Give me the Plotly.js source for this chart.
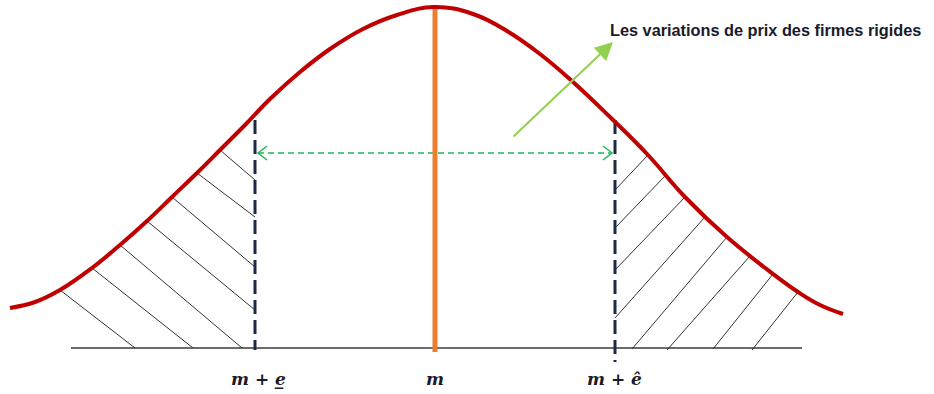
<!DOCTYPE html>
<html>
<head>
<meta charset="utf-8">
<script src="https://cdn.plot.ly/plotly-3.0.1.min.js"></script>
<style>html,body{margin:0;padding:0;background:#fff;}#chart{width:934px;height:394px;}</style>
</head>
<body>
<div id="chart"></div>
<script>
// Bell curve points (diagram coordinates)
const curveX = [10, 35, 60, 92, 120, 147, 172, 197, 220, 245, 270, 300, 330, 363, 397, 434, 473, 507, 540, 573, 610, 648, 685, 727, 773, 798, 820, 843];
const curveY = [308, 302, 290, 268, 245, 221, 197, 173, 150, 125, 99, 72, 49, 29, 15, 7, 14, 31, 54, 82, 117, 155, 197, 237, 274, 292, 305, 314];

// Hatch segments: start on curve, end on dashed line / baseline
const hatchX0 = [220, 197, 172, 147, 120, 92, 60, 648, 665, 685, 705, 727, 750, 773, 798];
const hatchY0 = [150, 173, 197, 221, 245, 268, 290, 155, 176, 197, 217, 237, 256, 274, 292];
const hatchX1 = [255, 255, 255, 255, 242, 193, 135, 615, 615, 615, 615, 632, 667, 713, 752];
const hatchY1 = [180, 217, 267, 310, 348, 348, 348, 190, 228, 270, 318, 349, 350, 349, 350];

// Baseline
const baseX = [71, 802];
const baseY = [348, 348];

// Mean and bounds
const meanX = 435;
const meanTop = 8;
const meanBottom = 352;
const lowX = 255;
const lowTop = 120;
const lowBottom = 350;
const highX = 615;
const highTop = 120;
const highBottom = 362;

// Double arrow between bounds
const spanY = 153;
const spanX0 = 258;
const spanX1 = 612;

// Pointer arrow
const pointerFrom = [512, 138];
const pointerTo = [613, 42];

// Texts
const annotationText = "Les variations de prix des firmes rigides";
const tickLabels = ["m + e\u0332", "m", "m + \u00ea"];
const tickX = [258, 435, 614];
const tickY = 379;

const hx = [], hy = [];
for (let i = 0; i < hatchX0.length; i++) {
  hx.push(hatchX0[i], hatchX1[i], null);
  hy.push(hatchY0[i], hatchY1[i], null);
}

const traces = [
  {x: baseX, y: baseY, mode: 'lines', line: {color: '#3a3a3a', width: 1.5}, hoverinfo: 'skip'},
  {x: hx, y: hy, mode: 'lines', line: {color: '#333333', width: 1}, hoverinfo: 'skip'},
  {x: [lowX, lowX], y: [lowTop, lowBottom], mode: 'lines', line: {color: '#1c2b45', width: 3, dash: '14px,6px'}, hoverinfo: 'skip'},
  {x: [highX, highX], y: [highTop, highBottom], mode: 'lines', line: {color: '#1c2b45', width: 3, dash: '14px,6px'}, hoverinfo: 'skip'},
  {x: [spanX0, spanX1], y: [spanY, spanY], mode: 'lines', line: {color: '#1fb45a', width: 1.5, dash: '6px,4px'}, hoverinfo: 'skip'},
  {x: [spanX0 + 9, spanX0, spanX0 + 9, null, spanX1 - 9, spanX1, spanX1 - 9],
   y: [spanY - 7, spanY, spanY + 7, null, spanY - 7, spanY, spanY + 7],
   mode: 'lines', line: {color: '#1fb45a', width: 1.5}, hoverinfo: 'skip'},
  {x: [meanX, meanX], y: [meanTop, meanBottom], mode: 'lines', line: {color: '#ed7d31', width: 5}, hoverinfo: 'skip'},
  {x: curveX, y: curveY, mode: 'lines', line: {color: '#c00000', width: 4, shape: 'spline', smoothing: 1.2}, hoverinfo: 'skip'}
];

const annotations = [
  {x: pointerTo[0], y: pointerTo[1], ax: pointerFrom[0], ay: pointerFrom[1], xref: 'x', yref: 'y', axref: 'x', ayref: 'y',
   showarrow: true, arrowhead: 2, arrowsize: 1.8, arrowwidth: 2, arrowcolor: '#92d050', text: ''},
  {x: 608, y: 30, xref: 'x', yref: 'y', xanchor: 'left', yanchor: 'middle', showarrow: false,
   text: '<b>' + annotationText + '</b>', font: {family: 'Liberation Sans Narrow, Arial Narrow, sans-serif', size: 16.3, color: '#1a1a2a'}}
];
for (let i = 0; i < tickLabels.length; i++) {
  annotations.push({x: tickX[i], y: tickY, xref: 'x', yref: 'y', xanchor: 'center', yanchor: 'middle', showarrow: false,
    text: '<b><i>' + tickLabels[i] + '</i></b>', font: {family: 'DejaVu Serif, serif', size: 17, color: '#1a1a2a'}});
}

const layout = {
  width: 934, height: 394,
  margin: {l: 0, r: 0, t: 0, b: 0},
  paper_bgcolor: '#ffffff', plot_bgcolor: '#ffffff',
  showlegend: false,
  xaxis: {range: [0, 934], visible: false, fixedrange: true},
  yaxis: {range: [394, 0], visible: false, fixedrange: true},
  annotations: annotations
};

Plotly.newPlot('chart', traces, layout, {displayModeBar: false, staticPlot: true});
</script>
</body>
</html>
